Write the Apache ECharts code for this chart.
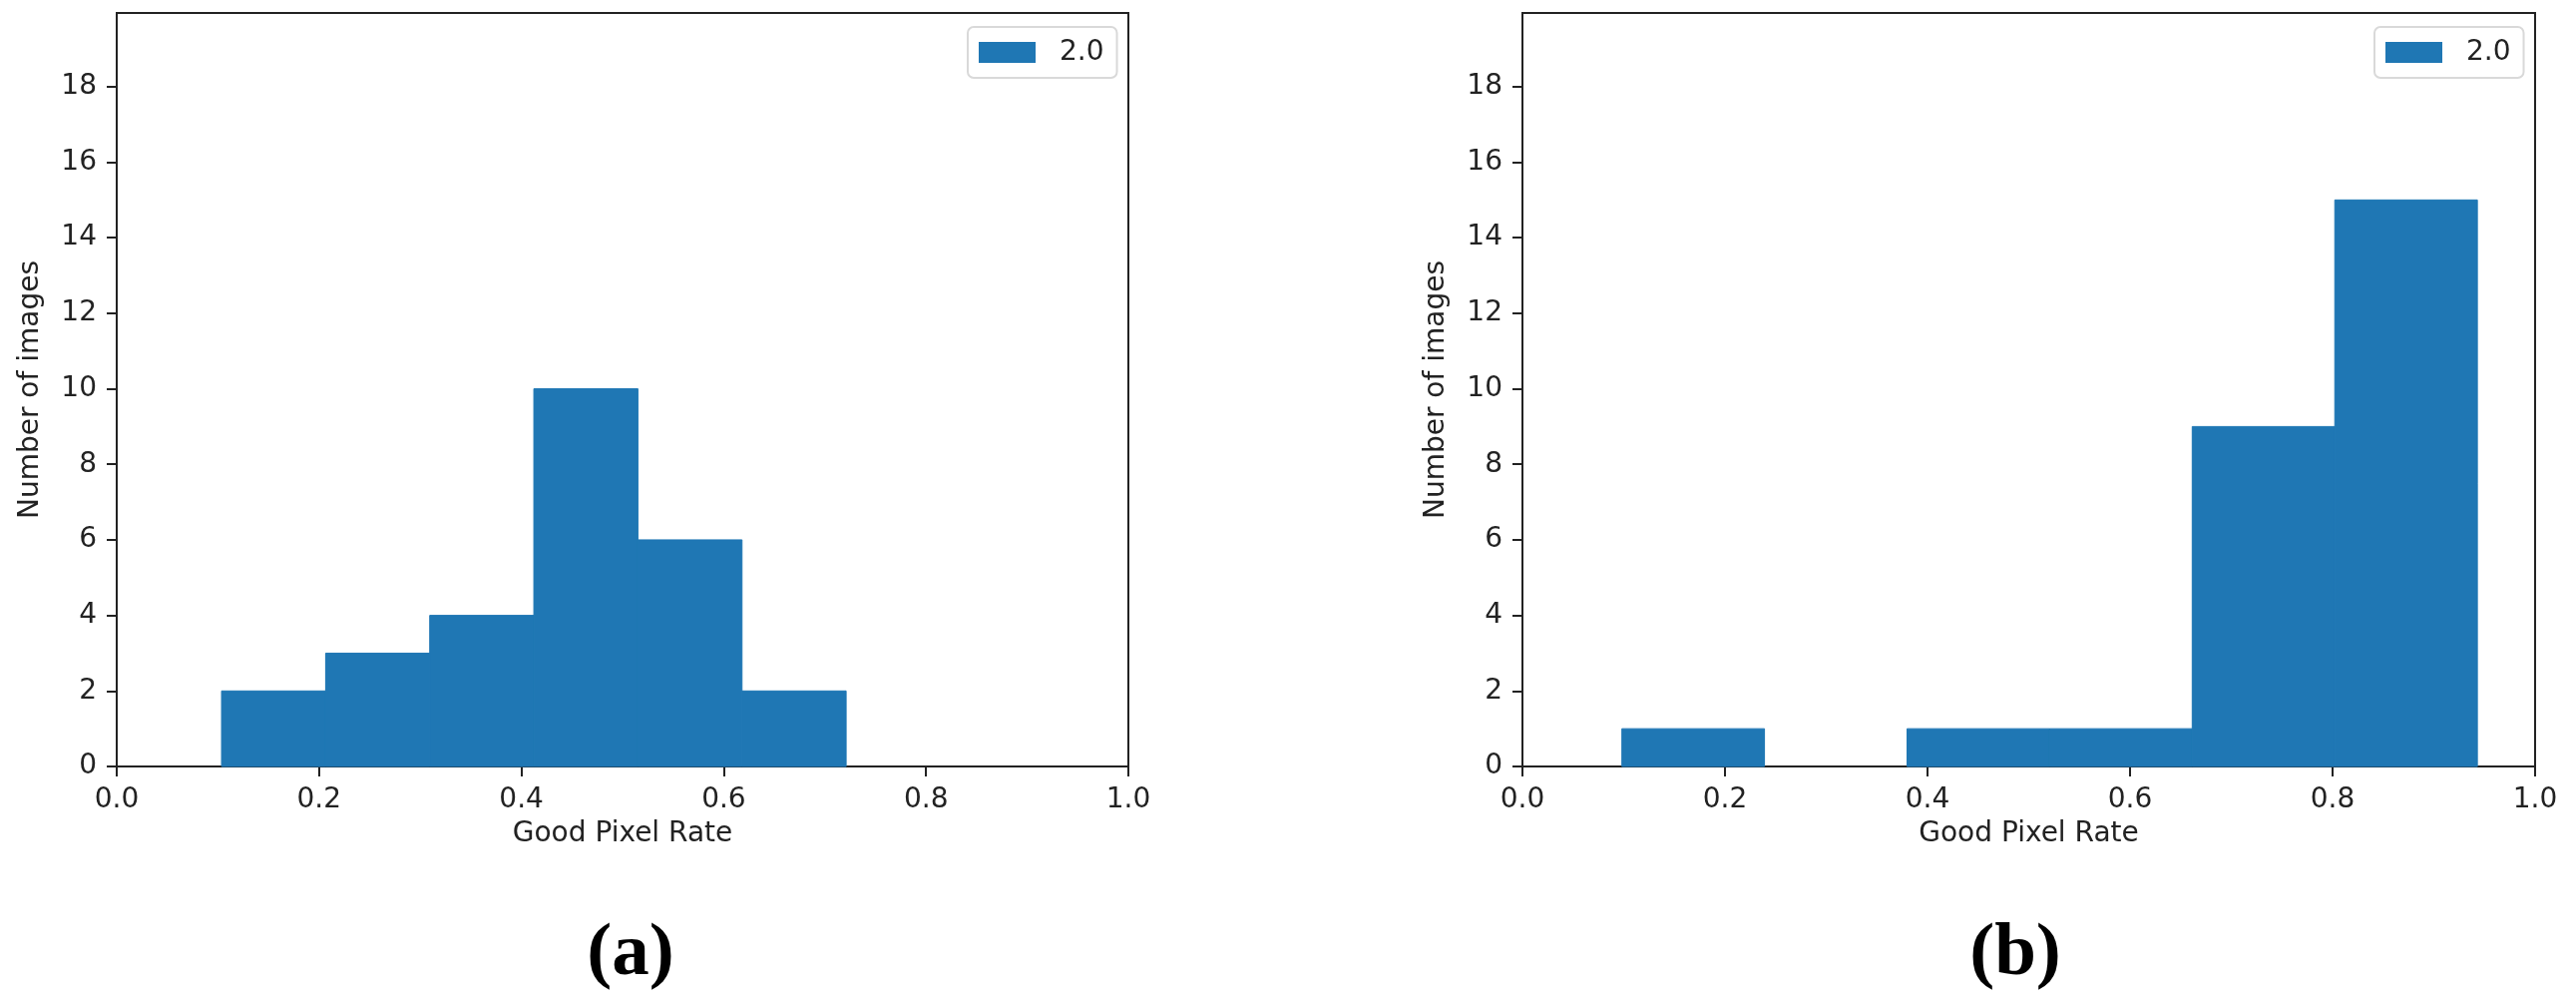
<!DOCTYPE html>
<html>
<head>
<meta charset="utf-8">
<script src="https://cdn.jsdelivr.net/npm/echarts@6/dist/echarts.min.js"></script>
<style>
html,body{margin:0;padding:0;background:#fff;}
#chart{width:2582px;height:1010px;}
</style>
</head>
<body>
<div id="chart"></div>
<script>
// ---- data ----
const seriesName = '2.0';
const binEdgesA = [0.1036, 0.2065, 0.3094, 0.4123, 0.5152, 0.6181, 0.7210];
const countsA = [2, 3, 4, 10, 6, 2];
const binEdgesB = [0.0982, 0.2390, 0.3798, 0.5206, 0.6614, 0.8022, 0.9430];
const countsB = [1, 0, 1, 1, 9, 15];
const xTicks = [0.0, 0.2, 0.4, 0.6, 0.8, 1.0];
const yTicks = [0, 2, 4, 6, 8, 10, 12, 14, 16, 18];
const xAxisTitle = 'Good Pixel Rate';
const yAxisTitle = 'Number of images';
const captions = ['(a)', '(b)'];

const BAR = '#1f77b4';
const INK = '#222';
const FONT = 'DejaVu Sans';

function binsToData(edges, counts) {
  return counts.map((c, i) => [edges[i], edges[i + 1], c]);
}

function renderBar(params, api) {
  if (api.value(2) === 0) return null;
  const top = api.coord([api.value(0), api.value(2)]);
  const bot = api.coord([api.value(1), 0]);
  return {
    type: 'rect',
    shape: { x: top[0], y: top[1], width: bot[0] - top[0], height: bot[1] - top[1] },
    style: { fill: BAR, stroke: BAR, lineWidth: 1 }
  };
}

function xAxisCfg(gi) {
  return {
    type: 'value', gridIndex: gi, min: 0, max: 1, interval: 0.2,
    name: xAxisTitle, nameLocation: 'middle', nameGap: 54,
    nameTextStyle: { fontFamily: FONT, fontSize: 28, color: INK },
    axisLine: { show: true, lineStyle: { color: INK, width: 2 } },
    axisTick: { show: true, inside: false, length: 10, lineStyle: { color: INK, width: 2 }, customValues: xTicks },
    axisLabel: { show: true, margin: 20, fontFamily: FONT, fontSize: 28, color: INK,
      customValues: xTicks, formatter: v => v.toFixed(1) },
    splitLine: { show: false }
  };
}
function yAxisCfg(gi) {
  return {
    type: 'value', gridIndex: gi, min: 0, max: 19.95, interval: 2,
    name: yAxisTitle, nameLocation: 'middle', nameGap: 72, nameRotate: 90,
    nameTextStyle: { fontFamily: FONT, fontSize: 28, color: INK },
    axisLine: { show: true, lineStyle: { color: INK, width: 2 } },
    axisTick: { show: true, inside: false, length: 10, lineStyle: { color: INK, width: 2 }, customValues: yTicks },
    axisLabel: { show: true, margin: 20, fontFamily: FONT, fontSize: 28, color: INK, customValues: yTicks },
    splitLine: { show: false }
  };
}
function legendCfg(left) {
  return {
    left: left, top: 27, orient: 'horizontal',
    padding: [11, 13, 11, 11], itemWidth: 57, itemHeight: 21, itemGap: 0,
    icon: 'rect', borderColor: '#d9d9d9', borderWidth: 2, borderRadius: 6, backgroundColor: '#fff',
    textStyle: { fontFamily: FONT, fontSize: 28, color: INK, lineHeight: 29, padding: [0, 0, 0, 19] },
    data: [seriesName], selectedMode: false
  };
}

const chart = echarts.init(document.getElementById('chart'), null, { renderer: 'canvas' });
chart.setOption({
  backgroundColor: '#fff',
  animation: false,
  title: [
    { text: captions[0], left: 627, top: 914, textAlign: 'center',
      textStyle: { fontFamily: 'Liberation Serif', fontWeight: 'bold', fontSize: 75, color: '#000' } },
    { text: captions[1], left: 2015, top: 914, textAlign: 'center',
      textStyle: { fontFamily: 'Liberation Serif', fontWeight: 'bold', fontSize: 75, color: '#000' } }
  ],
  legend: [legendCfg(970), legendCfg(2380)],
  grid: [
    { left: 117, top: 13, width: 1014, height: 755, show: true, borderColor: INK, borderWidth: 2, backgroundColor: 'transparent', outerBoundsMode: 'none', containLabel: false },
    { left: 1526, top: 13, width: 1015, height: 755, show: true, borderColor: INK, borderWidth: 2, backgroundColor: 'transparent', outerBoundsMode: 'none', containLabel: false }
  ],
  xAxis: [xAxisCfg(0), xAxisCfg(1)],
  yAxis: [yAxisCfg(0), yAxisCfg(1)],
  series: [
    { name: seriesName, type: 'custom', xAxisIndex: 0, yAxisIndex: 0, renderItem: renderBar,
      itemStyle: { color: BAR }, encode: { x: [0, 1], y: 2 }, data: binsToData(binEdgesA, countsA) },
    { name: seriesName, type: 'custom', xAxisIndex: 1, yAxisIndex: 1, renderItem: renderBar,
      itemStyle: { color: BAR }, encode: { x: [0, 1], y: 2 }, data: binsToData(binEdgesB, countsB) }
  ]
});
</script>
</body>
</html>
